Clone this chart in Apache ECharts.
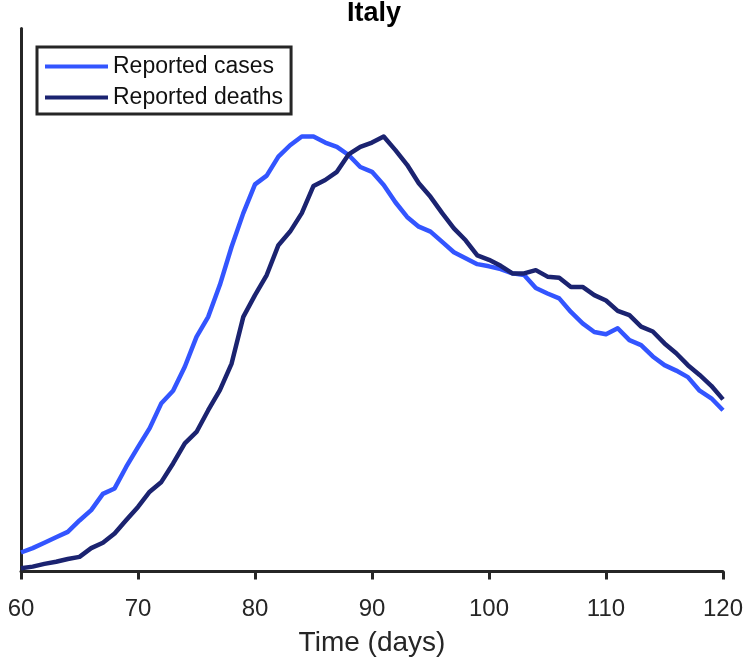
<!DOCTYPE html>
<html>
<head>
<meta charset="utf-8">
<title>Italy</title>
<script src="https://cdn.jsdelivr.net/npm/echarts@6/dist/echarts.min.js"></script>
<style>
  html, body { margin: 0; padding: 0; background: #fff; }
  #chart { width: 748px; height: 663px; }
</style>
</head>
<body>
<div id="chart"></div>
<script>
// Days since start of the year
const days = [];
for (let d = 60; d <= 120; d++) days.push(d);

// Normalized daily reported cases, days 60–120
const reportedCases = [
  0.035, 0.043, 0.053, 0.063, 0.073, 0.094, 0.113, 0.143, 0.153, 0.193,
  0.229, 0.264, 0.310, 0.333, 0.377, 0.432, 0.469, 0.528, 0.598, 0.660,
  0.713, 0.729, 0.764, 0.785, 0.801, 0.801, 0.790, 0.782, 0.767, 0.745,
  0.736, 0.712, 0.680, 0.653, 0.635, 0.626, 0.607, 0.588, 0.577, 0.566,
  0.562, 0.557, 0.549, 0.546, 0.522, 0.512, 0.503, 0.478, 0.457, 0.441,
  0.437, 0.448, 0.426, 0.417, 0.396, 0.380, 0.370, 0.358, 0.333, 0.319,
  0.297
];

// Normalized daily reported deaths, days 60–120
const reportedDeaths = [
  0.006, 0.009, 0.014, 0.018, 0.023, 0.027, 0.043, 0.053, 0.070, 0.095,
  0.119, 0.147, 0.165, 0.199, 0.236, 0.257, 0.297, 0.334, 0.383, 0.469,
  0.509, 0.546, 0.601, 0.626, 0.660, 0.710, 0.721, 0.736, 0.768, 0.782,
  0.790, 0.801, 0.776, 0.749, 0.715, 0.690, 0.660, 0.632, 0.610, 0.582,
  0.574, 0.563, 0.549, 0.549, 0.555, 0.543, 0.541, 0.524, 0.524, 0.509,
  0.499, 0.480, 0.472, 0.451, 0.442, 0.420, 0.402, 0.380, 0.362, 0.342,
  0.317
];

const xTicks = [60, 70, 80, 90, 100, 110, 120];

const FONT = '"Liberation Sans", Arial, Helvetica, sans-serif';
const INK = '#262626';
const CASES_COLOR = '#3355ff';
const DEATHS_COLOR = '#1b2370';

const chart = echarts.init(document.getElementById('chart'), null, { renderer: 'canvas' });

chart.setOption({
  animation: false,
  backgroundColor: '#ffffff',
  title: {
    text: 'Italy',
    left: 'center',
    top: 0,
    padding: 0,
    textStyle: { fontFamily: FONT, fontWeight: 'bold', fontSize: 27, color: '#000' }
  },
  legend: {
    orient: 'vertical',
    left: 37,
    top: 47,
    padding: [4, 8, 1, 8],
    itemGap: 0,
    itemWidth: 63,
    itemHeight: 4,
    icon: 'rect',
    borderColor: INK,
    borderWidth: 3,
    backgroundColor: '#fff',
    textStyle: { fontFamily: FONT, fontSize: 23, color: '#111', lineHeight: 31, height: 31 },
    data: ['Reported cases', 'Reported deaths']
  },
  grid: { left: 21, right: 25, top: 28.5, bottom: 91.5, containLabel: false },
  xAxis: {
    type: 'value',
    min: xTicks[0],
    max: xTicks[xTicks.length - 1],
    interval: 10,
    name: 'Time (days)',
    nameLocation: 'middle',
    nameGap: 58,
    nameTextStyle: { fontFamily: FONT, fontSize: 28, color: INK },
    axisLine: { show: true, onZero: false, lineStyle: { color: INK, width: 3 } },
    axisTick: { show: true, inside: false, length: 8, lineStyle: { color: INK, width: 3 } },
    axisLabel: { margin: 26, fontFamily: FONT, fontSize: 24, color: INK },
    splitLine: { show: false }
  },
  yAxis: {
    type: 'value',
    min: 0,
    max: 1,
    axisLine: { show: true, onZero: false, lineStyle: { color: INK, width: 3 } },
    axisTick: { show: false },
    axisLabel: { show: false },
    splitLine: { show: false }
  },
  series: [
    {
      name: 'Reported cases',
      type: 'line',
      symbol: 'none',
      color: CASES_COLOR,
      lineStyle: { width: 4.5, color: CASES_COLOR, join: 'round' },
      data: days.map((d, i) => [d, reportedCases[i]])
    },
    {
      name: 'Reported deaths',
      type: 'line',
      symbol: 'none',
      color: DEATHS_COLOR,
      lineStyle: { width: 4.5, color: DEATHS_COLOR, join: 'round' },
      data: days.map((d, i) => [d, reportedDeaths[i]])
    }
  ]
});
</script>
</body>
</html>
